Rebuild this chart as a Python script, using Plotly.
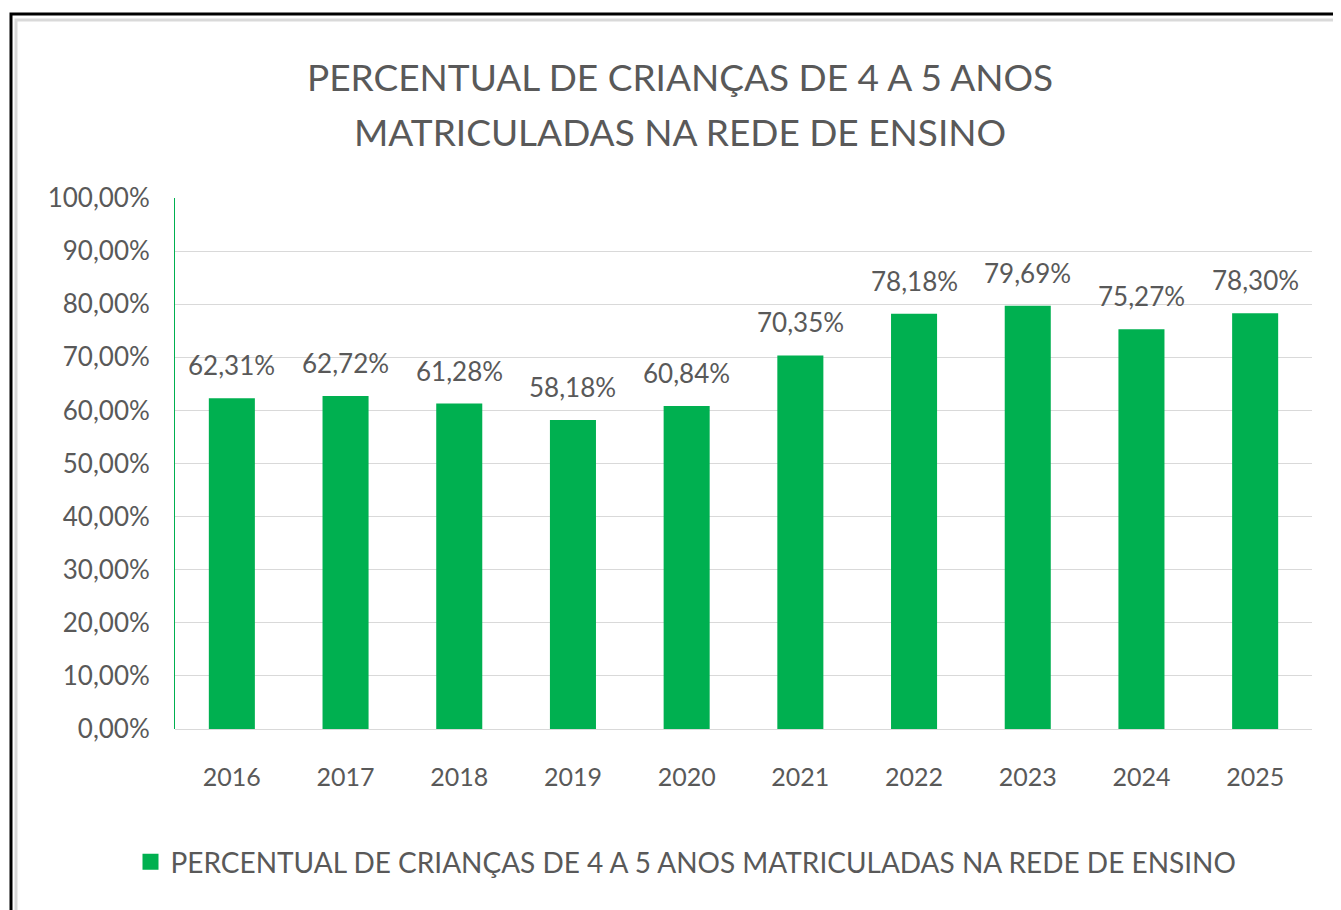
import plotly.graph_objects as go

years = ["2016", "2017", "2018", "2019", "2020", "2021", "2022", "2023", "2024", "2025"]
values = [62.31, 62.72, 61.28, 58.18, 60.84, 70.35, 78.18, 79.69, 75.27, 78.30]
y_ticks = [0, 10, 20, 30, 40, 50, 60, 70, 80, 90, 100]
y_tick_labels = ["0,00%", "10,00%", "20,00%", "30,00%", "40,00%", "50,00%",
                 "60,00%", "70,00%", "80,00%", "90,00%", "100,00%"]
series_name = "PERCENTUAL DE CRIANÇAS DE 4 A 5 ANOS MATRICULADAS NA REDE DE ENSINO"
title_lines = ["PERCENTUAL DE CRIANÇAS DE 4 A 5 ANOS", "MATRICULADAS NA REDE DE ENSINO"]

OFF = 8  # page body margin
W, H = 1341 - OFF, 910 - OFF
L, R, T, B = 175 - OFF, 1312 - OFF, 198 - OFF, 729 - OFF
FONT = "Lato"
GRAY = "#595959"
GREEN = "#00B050"

def px_x(p):
    return (p - OFF - L) / (R - L)

def px_y(p):
    return (B - (p - OFF)) / (B - T)

fig = go.Figure()
fig.add_trace(go.Bar(
    x=years, y=values, name=series_name,
    marker=dict(color=GREEN, line=dict(width=0)),
    showlegend=False,
))
# legend entry with a larger square swatch
fig.add_trace(go.Scatter(
    x=[None], y=[None], mode="markers", name=series_name,
    marker=dict(symbol="square", size=20, color=GREEN),
    showlegend=True,
))

annotations = []
for i, v in enumerate(values):
    annotations.append(dict(
        x=i, y=v, xref="x", yref="y",
        text=f"{v:.2f}%".replace(".", ","),
        showarrow=False, yanchor="bottom", yshift=15,
        font=dict(family=FONT, size=26, color=GRAY),
    ))

for line, ypix in zip(title_lines, [76, 131]):
    annotations.append(dict(
        x=px_x(680), y=px_y(ypix), xref="paper", yref="paper",
        text=line, showarrow=False, xanchor="center", yanchor="middle",
        font=dict(family=FONT, size=37, color=GRAY),
    ))

shapes = [
    dict(type="rect", xref="paper", yref="paper",
         x0=px_x(16), x1=px_x(1360), y0=px_y(930), y1=px_y(20),
         line=dict(color="#d9d9d9", width=3), layer="below"),
    dict(type="rect", xref="paper", yref="paper",
         x0=px_x(11), x1=px_x(1360), y0=px_y(930), y1=px_y(14),
         line=dict(color="black", width=3), layer="below"),
]

fig.update_layout(
    width=W, height=H,
    margin=dict(l=L, r=W - R, t=T, b=H - B, autoexpand=False),
    paper_bgcolor="white", plot_bgcolor="white",
    bargap=0.595,
    font=dict(family=FONT, color=GRAY),
    xaxis=dict(
        type="category", range=[-0.5, 9.5], autorange=False,
        showgrid=False, showline=False, zeroline=False,
        ticks="outside", ticklen=26, tickcolor="rgba(0,0,0,0)",
        tickfont=dict(family=FONT, size=25, color=GRAY),
    ),
    yaxis=dict(
        range=[0, 100], autorange=False, tickmode="array", tickvals=y_ticks, ticktext=y_tick_labels,
        showgrid=True, gridcolor="#d9d9d9", gridwidth=1,
        zeroline=True, zerolinecolor="#d9d9d9", zerolinewidth=1,
        showline=True, linecolor=GREEN, linewidth=1,
        ticks="outside", ticklen=19, tickcolor="rgba(0,0,0,0)",
        tickfont=dict(family=FONT, size=26, color=GRAY),
    ),
    legend=dict(
        orientation="h", x=px_x(686), xanchor="center", y=px_y(862), yanchor="middle",
        font=dict(family=FONT, size=28, color=GRAY),
        bgcolor="rgba(0,0,0,0)", itemwidth=30,
    ),
    annotations=annotations,
    shapes=shapes,
)

fig.write_html("out.html")
